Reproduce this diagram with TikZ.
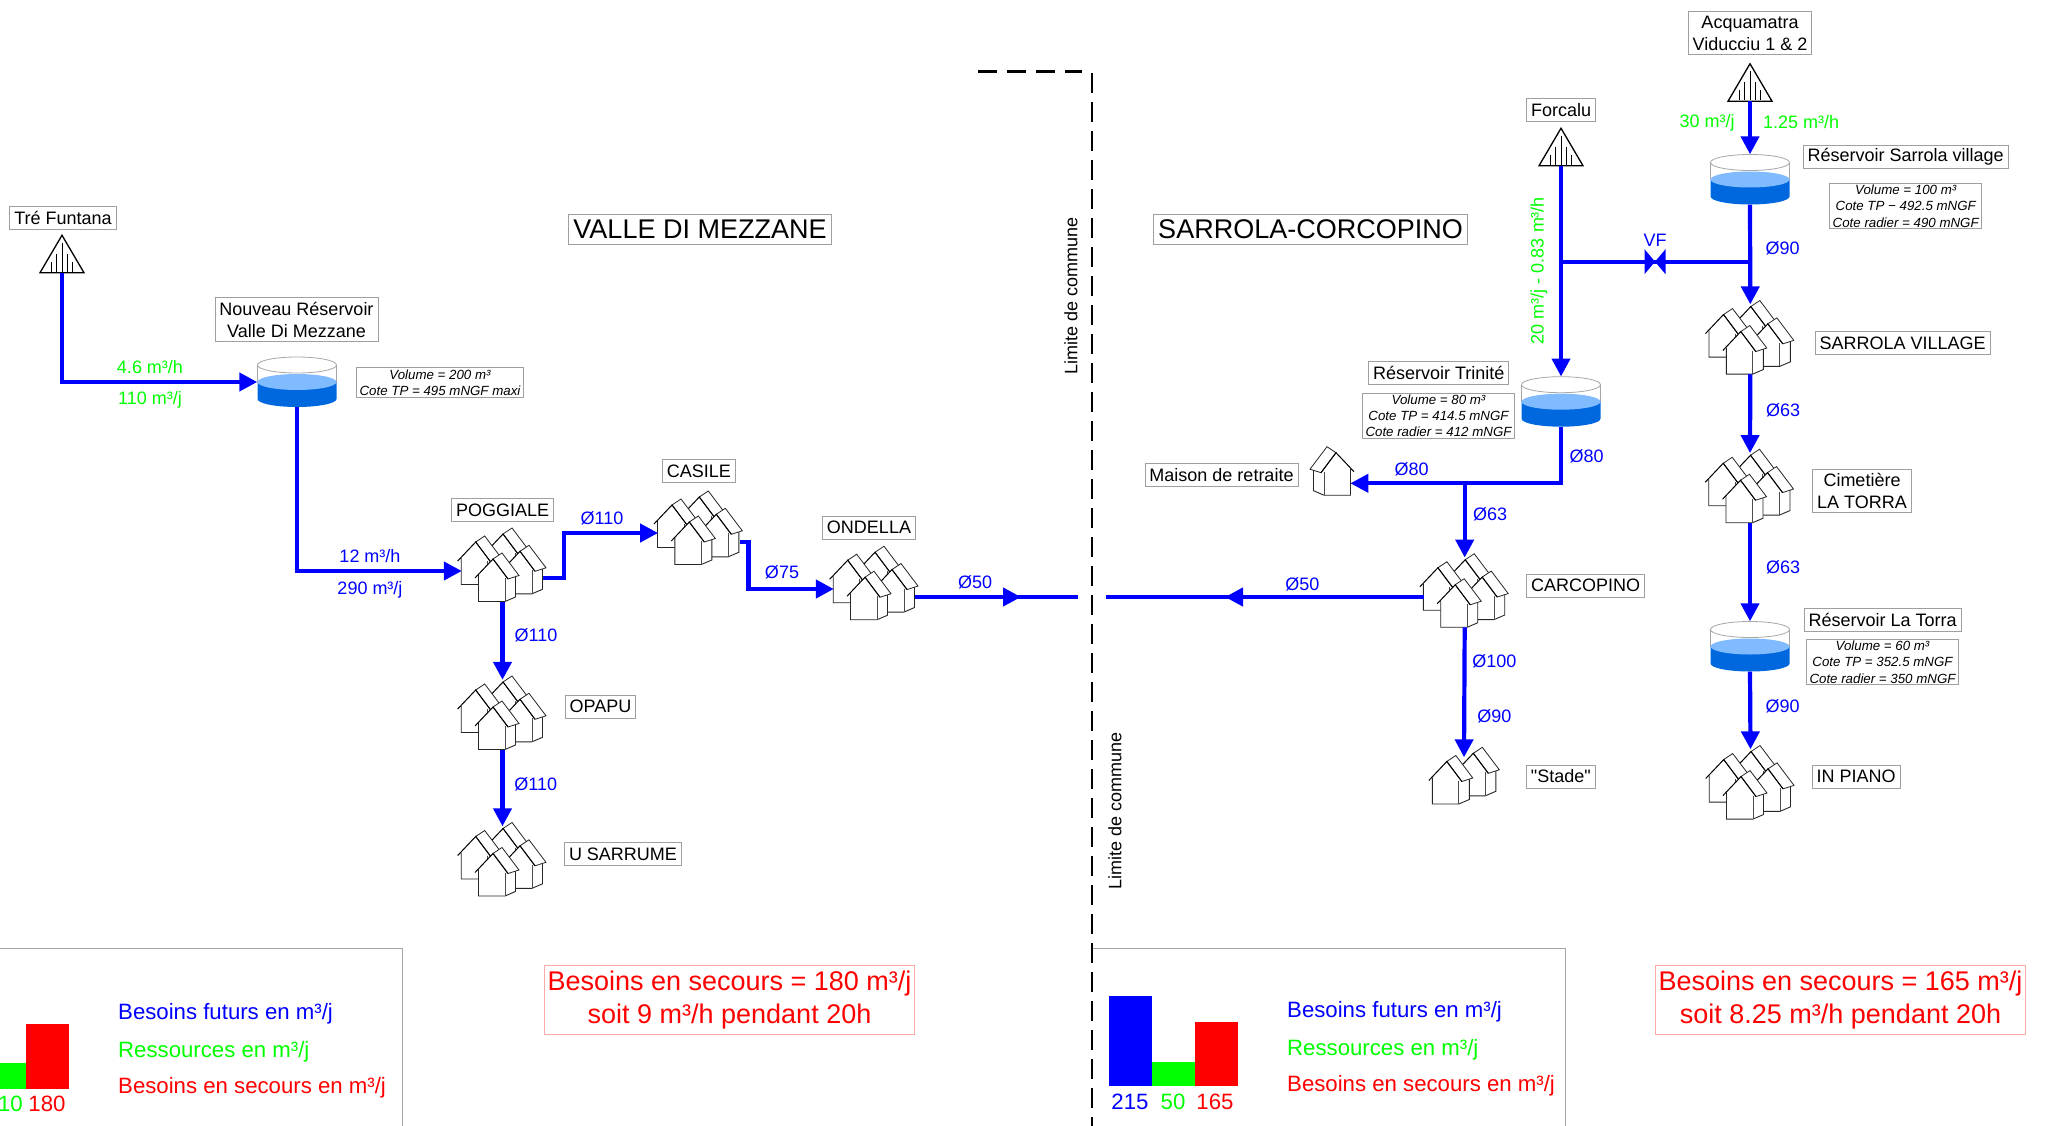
\documentclass[tikz,border=0pt]{standalone}
\usepackage{fontspec}
\setmainfont{Liberation Sans}
\newfontfamily\plainfont{Liberation Sans}
\usetikzlibrary{arrows.meta}

\definecolor{waterlight}{RGB}{128,186,255}
\definecolor{waterdark}{RGB}{0,104,222}
\definecolor{pinkline}{RGB}{255,170,170}

\tikzset{
	pipe/.style={blue, line width=4.2pt},
	boxlabel/.style={draw=gray!75, line width=0.9pt, fill=white, align=center, inner xsep=4.5pt, inner ysep=2.5pt, minimum height=23pt, font=\fontsize{18}{21}\selectfont},
	twolinebox/.style={boxlabel, inner ysep=4pt, font=\fontsize{18}{22}\selectfont},
	titlebox/.style={boxlabel, inner xsep=5pt, minimum height=30pt, font=\fontsize{27}{32}\selectfont},
	infobox/.style={boxlabel, inner xsep=3pt, inner ysep=1.5pt, font=\fontsize{13.3}{16.4}\selectfont\itshape},
	secoursbox/.style={draw=pinkline, line width=0.9pt, text=red, align=center, inner xsep=3pt, minimum height=69pt, font=\fontsize{27}{33.5}\selectfont},
	flowtxt/.style={text=green, inner sep=0pt, font=\fontsize{18}{21}\selectfont},
	diamtxt/.style={text=blue, inner sep=0pt, yshift=-0.5pt, font=\fontsize{18}{21}\selectfont},
	limittxt/.style={rotate=90, inner sep=0pt, font=\fontsize{18}{21}\selectfont},
	legendtxt/.style={anchor=west, inner sep=0pt, font=\fontsize{22.2}{26}\selectfont},
	valuetxt/.style={inner sep=0pt, font=\fontsize{22.2}{26}\selectfont},
	hamletbox/.style={inner sep=0pt, minimum width=81pt, minimum height=69.5pt},
	tankbox/.style={inner sep=0pt, minimum width=79pt, minimum height=50pt},
	sourcebox/.style={inner sep=0pt, minimum width=44pt, minimum height=37.5pt},
	pics/house/.style={code={
		\path[fill=white] (0,0) -- (-14.5,16) -- (-14.5,42.5) -- (12,42.5) -- (22.5,38) -- (22.5,17) -- (15,20) -- cycle;
		\draw[black!85, line width=0.9pt] (-14.5,16) -- (-14.5,42.5) -- (12,42.5) -- (22.5,38) -- (22.5,17);
		\draw[black!70, line width=0.9pt] (12,19) -- (12,42.5);
		\draw[black!85, line width=0.8pt, fill=white] (0,0) -- (15,20) -- (26,16.5) -- (9,-6) -- cycle;
		\draw[black, line width=1pt] (-18,19) -- (0,0) -- (15,20);
	}},
	pics/hamlet/.style={code={
		\pic at (0.5,-32.75) {house};
		\pic at (17.5,-15.45) {house};
		\pic at (-26.8,-24.75) {house};
		\pic at (-9.5,-7.75) {house};
	}},
	pics/tank/.style={code={
		\draw[gray!70, line width=0.8pt, fill=white] (0,-17) ellipse [x radius=39.5pt, y radius=8pt];
		\draw[gray!70, line width=0.8pt] (-39.5,-17) -- (-39.5,0) (39.5,-17) -- (39.5,0);
		\fill[waterdark] (-39.5,0) -- (-39.5,17) arc [start angle=180, end angle=360, x radius=39.5pt, y radius=8pt] -- (39.5,0) -- cycle;
		\fill[waterlight] (0,0) ellipse [x radius=39.5pt, y radius=8pt];
	}},
	pics/source/.style={code={
		\draw[black, line width=1.3pt, fill=white, line join=miter] (0,-18.75) -- (22,18.75) -- (-22,18.75) -- cycle;
		\draw[black, line width=0.8pt] (0,-11) -- (0,18) (-5.4,0) -- (-5.4,18) (5.4,0) -- (5.4,18) (-10.7,8) -- (-10.7,18) (10.7,8) -- (10.7,18);
	}},
	pics/valve/.style={code={
		\fill[blue] (-10.5,-12.5) -- (0,0) -- (-10.5,12.5) -- cycle;
		\fill[blue] (10.5,-12.5) -- (0,0) -- (10.5,12.5) -- cycle;
	}},
}

\begin{document}
\begin{tikzpicture}[x=1pt, y=-1pt, >={Triangle[length=18pt,width=18pt]}]
	\useasboundingbox (0,0) rectangle (2045,1126);

	% 1. limite de commune
	\coordinate (limita) at (978,71.7);
	\coordinate (limitb) at (1082,71.7);
	\coordinate (limitc) at (1092,73);
	\coordinate (limitd) at (1092,1126);
	\draw[line width=2.8pt, dash pattern=on 19pt off 10pt] (limita) -- (limitb);
	\draw[line width=2.6pt, dash pattern=on 20pt off 9pt] (limitc) -- (limitd);
	\node[limittxt] (limitup) at (1071,296) {Limite de commune};
	\node[limittxt] (limitdown) at (1115,811) {Limite de commune};

	% 2. hameaux, reservoirs, captages
	\foreach \nm/\x/\y in {poggiale/502.5/566.75, casile/698.8/529.75, ondella/874.5/585, opapu/502.5/714.75, sarrume/502.5/861.25, carcopino/1464.7/592.5, sarrolavil/1750.3/339.3, cimetiere/1750/488, inpiano/1750.5/784.3} {
		\node[hamletbox] (\nm) at (\x,\y) {};
		\pic at (\nm) {hamlet};
	}
	\foreach \nm/\x/\y in {newres/297/382, sarrolares/1750/179.5, trinite/1561/401.7, latorra/1750/646.5} {
		\node[tankbox] (\nm) at (\x,\y) {};
		\pic at (\nm) {tank};
	}
	\foreach \nm/\x/\y in {funtana/62/254, acqua/1750/82.5, forcalu/1561/147} {
		\node[sourcebox] (\nm) at (\x,\y) {};
		\pic at (\nm) {source};
	}

	% maison de retraite et stade
	\node[inner sep=0pt, minimum width=37.5pt, minimum height=46pt] (maison) at (1331.4,473) {};
	\pic[xscale=-1] at (1336,452.7) {house};
	\node[inner sep=0pt, minimum width=60pt, minimum height=47pt] (stade) at (1464,781) {};
	\pic at (1473.3,753.3) {house};
	\pic at (1446.8,761.5) {house};

	% 3. canalisations VALLE DI MEZZANE
	\coordinate (flowl) at (1021,597);
	\coordinate (limitl) at (1078,597);
	\draw[pipe, ->] (funtana.south) |- (newres.west);
	\draw[pipe, ->] (newres.south) |- ([yshift=-4.25pt]poggiale.west);
	\draw[pipe, ->] ([yshift=-11pt]poggiale.east) -- ++(21,0) |- ([yshift=-3.25pt]casile.west);
	\draw[pipe, ->] ([yshift=-12pt]casile.east) -- ++(9,0) |- ([yshift=-4pt]ondella.west);
	\draw[pipe] ([yshift=-12pt]ondella.east) -- (limitl);
	\draw[pipe, ->] ([yshift=-12pt]ondella.east) -- (flowl);
	\draw[pipe, ->] (poggiale.south) -- (opapu.north);
	\draw[pipe, ->] (opapu.south) -- (sarrume.north);

	% 4. canalisations SARROLA-CORCOPINO
	\coordinate (flowr) at (1225,597);
	\coordinate (limitr) at (1106,597);
	\coordinate (forkf) at (1561,261.7);
	\coordinate (forks) at (1750,261.7);
	\coordinate (forkt) at (1464.7,483.3);
	\draw[pipe, ->] (acqua.south) -- (sarrolares.north);
	\draw[pipe, ->] (forcalu.south) -- (trinite.north);
	\draw[pipe] (forkf) -- (forks);
	\draw[pipe, ->] (sarrolares.south) -- (sarrolavil.north);
	\draw[pipe, ->] (sarrolavil.south) -- (cimetiere.north);
	\draw[pipe, ->] (cimetiere.south) -- (latorra.north);
	\draw[pipe, ->] (latorra.south) -- (inpiano.north);
	\draw[pipe, ->] (trinite.south) |- ([yshift=-10.3pt]maison.east);
	\draw[pipe, ->] (forkt) -- (carcopino.north);
	\draw[pipe] ([yshift=-4.5pt]carcopino.west) -- (limitr);
	\draw[pipe, ->] ([yshift=-4.5pt]carcopino.west) -- (flowr);
	\draw[pipe, ->] (carcopino.south) -- (stade.north);
	\pic at (1655,261.7) {valve};
	\node[diamtxt] (vf) at (1655,240) {VF};

	% 5. noms
	\node[titlebox] (valle) at (700,229.5) {VALLE DI MEZZANE};
	\node[titlebox] (sarrola) at (1310.5,229) {SARROLA-CORCOPINO};
	\node[boxlabel] (lfuntana) at (63,218) {Tré Funtana};
	\node[twolinebox] (lnewres) at (296.5,319.5) {Nouveau Réservoir\\Valle Di Mezzane};
	\node[boxlabel] (lpoggiale) at (502.7,510) {POGGIALE};
	\node[boxlabel] (lcasile) at (698.8,471) {CASILE};
	\node[boxlabel] (londella) at (869,527.5) {ONDELLA};
	\node[boxlabel] (lopapu) at (600.5,706.5) {OPAPU};
	\node[boxlabel] (lsarrume) at (623,854.3) {U SARRUME};
	\node[twolinebox] (lacqua) at (1750,33) {Acquamatra\\Viducciu 1 \& 2};
	\node[boxlabel] (lforcalu) at (1561,110) {Forcalu};
	\node[boxlabel] (lsarrolares) at (1905.6,157) {Réservoir Sarrola village};
	\node[boxlabel] (lsarrolavil) at (1902.6,343.3) {SARROLA VILLAGE};
	\node[twolinebox] (lcimetiere) at (1862,490.7) {Cimetière\\LA TORRA};
	\node[boxlabel] (llatorra) at (1882.7,619.5) {Réservoir La Torra};
	\node[boxlabel] (linpiano) at (1856,776.5) {IN PIANO};
	\node[boxlabel] (ltrinite) at (1438.7,373.3) {Réservoir Trinité};
	\node[boxlabel] (lmaison) at (1221.5,475) {Maison de retraite};
	\node[boxlabel] (lcarcopino) at (1585.5,585.5) {CARCOPINO};
	\node[boxlabel] (lstade) at (1560.8,776.5) {{\plainfont "Stade"}};

	% 6. caracteristiques des reservoirs
	\node[infobox] (inewres) at (440,382.5) {Volume = 200 m³\\Cote TP = 495 mNGF maxi};
	\node[infobox] (isarrola) at (1905.7,206) {Volume = 100 m³\\Cote TP − 492.5 mNGF\\Cote radier = 490 mNGF};
	\node[infobox] (itrinite) at (1438.5,415.8) {Volume = 80 m³\\Cote TP = 414.5 mNGF\\Cote radier = 412 mNGF};
	\node[infobox] (ilatorra) at (1882.5,662) {Volume = 60 m³\\Cote TP = 352.5 mNGF\\Cote radier = 350 mNGF};

	% 7. debits et diametres
	\node[flowtxt] (f1) at (150,367) {4.6 m³/h};
	\node[flowtxt] (f2) at (150,400) {110 m³/j};
	\node[flowtxt] (f3) at (1707,123) {30 m³/j};
	\node[flowtxt] (f4) at (1801,121.7) {1.25 m³/h};
	\node[flowtxt, rotate=90] (f5) at (1539,270.5) {20 m³/j - 0.83 m³/h};
	\node[diamtxt] (d1) at (370,555.5) {12 m³/h};
	\node[diamtxt] (d2) at (370,589) {290 m³/j};
	\node[diamtxt] (d3) at (602,518) {Ø110};
	\node[diamtxt] (d4) at (782,572) {Ø75};
	\node[diamtxt] (d5) at (536,635) {Ø110};
	\node[diamtxt] (d6) at (535.7,783.7) {Ø110};
	\node[diamtxt] (d7) at (975,582) {Ø50};
	\node[diamtxt] (d8) at (1782.5,248) {Ø90};
	\node[diamtxt] (d9) at (1783,409.3) {Ø63};
	\node[diamtxt] (d10) at (1783,567) {Ø63};
	\node[diamtxt] (d11) at (1782.7,705.7) {Ø90};
	\node[diamtxt] (d12) at (1586.7,456) {Ø80};
	\node[diamtxt] (d13) at (1411.7,468.3) {Ø80};
	\node[diamtxt] (d14) at (1490,513.7) {Ø63};
	\node[diamtxt] (d15) at (1302.3,583.7) {Ø50};
	\node[diamtxt] (d16) at (1494.3,660.3) {Ø100};
	\node[diamtxt] (d17) at (1494.3,716) {Ø90};

	% 8. legende gauche
	\draw[gray!70, line width=0.9pt] (0,948) -- (402,948) -- (402,1126);
	\fill[green] (0,1063) rectangle (25.5,1089);
	\fill[red] (25.5,1024) rectangle (69,1089);
	\node[valuetxt, text=green] (v1) at (10.5,1104) {10};
	\node[valuetxt, text=red] (v2) at (47,1104) {180};
	\node[legendtxt, text=blue] (t1) at (118,1014) {Besoins futurs en m³/j};
	\node[legendtxt, text=green] (t2) at (118,1051.5) {Ressources en m³/j};
	\node[legendtxt, text=red] (t3) at (118,1088) {Besoins en secours en m³/j};
	\node[secoursbox] (s1) at (729.5,1000) {Besoins en secours = 180 m³/j\\soit 9 m³/h pendant 20h};

	% 9. legende droite
	\draw[gray!70, line width=0.9pt] (1093,948) -- (1565.5,948) -- (1565.5,1126);
	\fill[blue] (1109,995.7) rectangle (1152,1086);
	\fill[green] (1152,1061.7) rectangle (1195,1086);
	\fill[red] (1195,1021.7) rectangle (1238,1086);
	\node[valuetxt, text=blue] (v3) at (1130,1102) {215};
	\node[valuetxt, text=green] (v4) at (1173,1102) {50};
	\node[valuetxt, text=red] (v5) at (1215,1102) {165};
	\node[legendtxt, text=blue] (t4) at (1287,1012) {Besoins futurs en m³/j};
	\node[legendtxt, text=green] (t5) at (1287,1049.5) {Ressources en m³/j};
	\node[legendtxt, text=red] (t6) at (1287,1086) {Besoins en secours en m³/j};
	\node[secoursbox] (s2) at (1840.5,1000) {Besoins en secours = 165 m³/j\\soit 8.25 m³/h pendant 20h};
\end{tikzpicture}
\end{document}
